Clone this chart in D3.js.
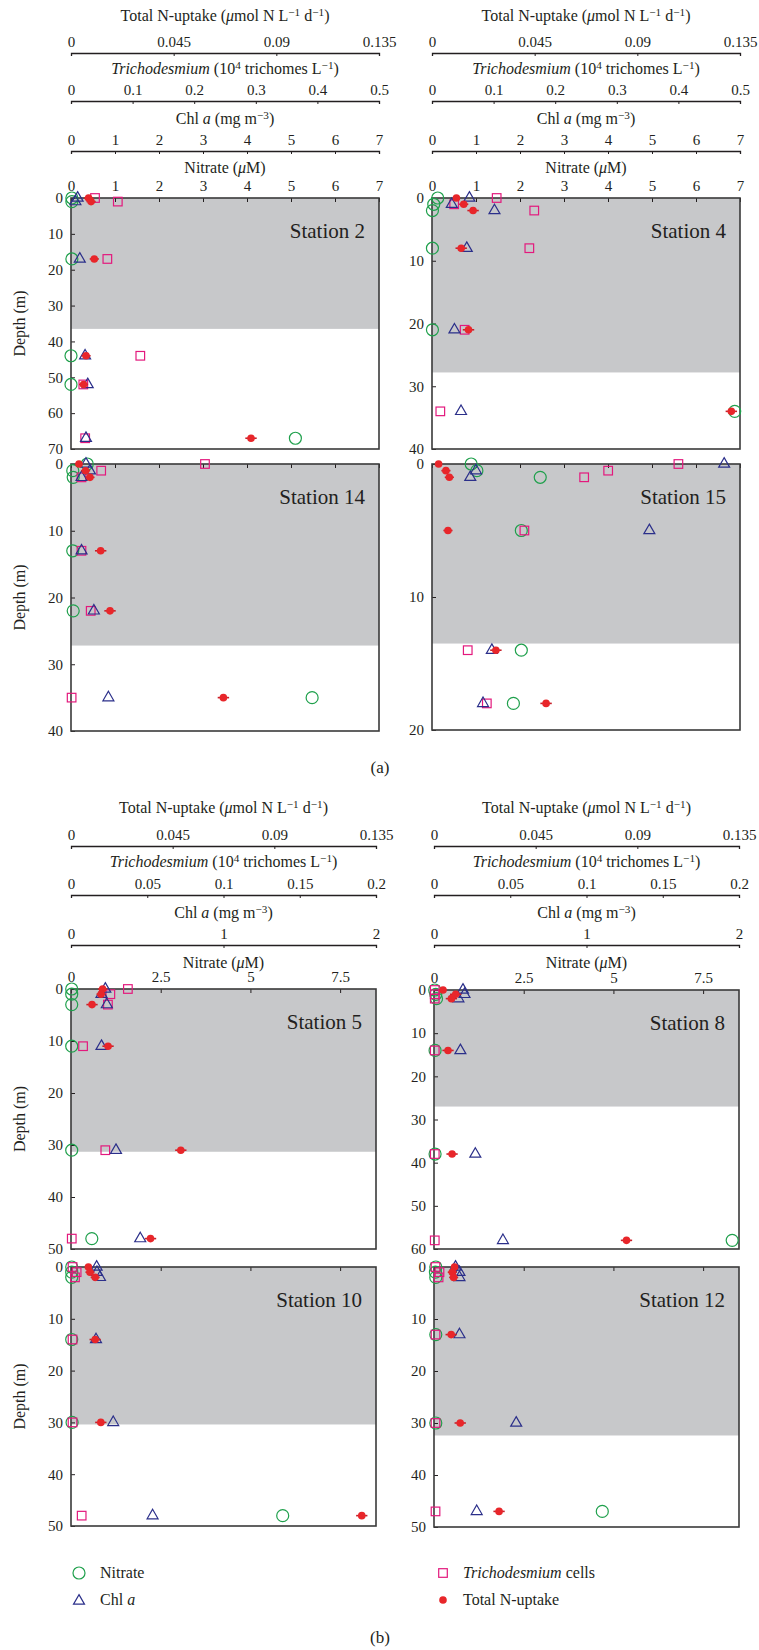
<!DOCTYPE html>
<html><head><meta charset="utf-8">
<script src="https://cdn.jsdelivr.net/npm/d3@7"></script>
<style>
body{margin:0;background:#fff}
svg text{font-family:"Liberation Serif","DejaVu Serif",serif;fill:#231f20}
</style>
</head><body>
<svg id="c" width="759" height="1650"></svg>
<script>
// ---------- axis ticks ----------
const uptakeTicks = [0, 0.045, 0.09, 0.135];
const uptakeLabels = ["0", "0.045", "0.09", "0.135"];
const trichTicksA = [0, 0.1, 0.2, 0.3, 0.4, 0.5];
const trichLabelsA = ["0", "0.1", "0.2", "0.3", "0.4", "0.5"];
const trichTicksB = [0, 0.05, 0.1, 0.15, 0.2];
const trichLabelsB = ["0", "0.05", "0.1", "0.15", "0.2"];
const chlTicksA = [0, 1, 2, 3, 4, 5, 6, 7];
const chlTicksB = [0, 1, 2];
const nitTicksA = [0, 1, 2, 3, 4, 5, 6, 7];
const nitTicksB = [0, 2.5, 5, 7.5];
const nitLabelsB = ["0", "2.5", "5", "7.5"];
const uptakeMax = 0.135, trichMaxA = 0.5, trichMaxB = 0.2, chlMaxA = 7, chlMaxB = 2, nitMaxA = 7, nitMaxB = 8.5;

// ---------- station data ----------
const stationNames = ["Station 2", "Station 4", "Station 14", "Station 15", "Station 5", "Station 8", "Station 10", "Station 12"];
const depthMax = [70, 40, 40, 20, 50, 60, 50, 50];
const mixedDepth = [36.5, 27.8, 27.2, 13.5, 31.3, 27.0, 30.4, 32.4];
const depthTicks2 = [0, 10, 20, 30, 40, 50, 60, 70];
const depthTicks40 = [0, 10, 20, 30, 40];
const depthTicks20 = [0, 10, 20];
const depthTicks50 = [0, 10, 20, 30, 40, 50];
const depthTicks60 = [0, 10, 20, 30, 40, 50, 60];

const depth2 = [0, 1, 17, 44, 52, 67];
const nitrate2 = [0.02, 0.02, 0.02, 0.0, 0.0, 5.1];
const chl2 = [0.15, 0.1, 0.2, 0.32, 0.38, 0.34];
const trich2 = [0.039, 0.076, 0.059, 0.1125, 0.02, 0.023];
const uptake2 = [0.0077, 0.0088, 0.0102, 0.0066, 0.0055, 0.0789];
const uptakeErr2 = [0.002, 0.002, 0.002, 0.002, 0.002, 0.0025];

const depth4 = [0, 1, 2, 8, 21, 34];
const nitrate4 = [0.13, 0.04, 0.01, 0.01, 0.01, 6.88];
const chl4 = [0.85, 0.45, 1.42, 0.79, 0.51, 0.66];
const trich4 = [0.105, 0.036, 0.166, 0.158, 0.053, 0.0135];
const uptake4 = [0.0107, 0.0139, 0.018, 0.0128, 0.016, 0.1312];
const uptakeErr4 = [0.0015, 0.002, 0.0025, 0.0025, 0.0025, 0.0025];

const depth14 = [0, 1, 2, 13, 22, 35];
const nitrate14 = [0.37, 0.04, 0.05, 0.04, 0.05, 5.48];
const chl14 = [0.34, 0.43, 0.24, 0.24, 0.52, 0.85];
const trich14 = [0.2175, 0.049, 0.017, 0.017, 0.032, 0.001];
const uptake14 = [0.0035, 0.0064, 0.0083, 0.013, 0.0171, 0.0668];
const uptakeErr14 = [0.0015, 0.002, 0.002, 0.0025, 0.0025, 0.0025];

const depth15 = [0, 0.5, 1, 5, 14, 18];
const nitrate15 = [0.89, 1.02, 2.46, 2.03, 2.03, 1.85];
const chl15 = [6.64, 1.0, 0.87, 4.94, 1.36, 1.16];
const trich15 = [0.40, 0.286, 0.247, 0.15, 0.058, 0.089];
const uptake15 = [0.0029, 0.0061, 0.0076, 0.007, 0.028, 0.05];
const uptakeErr15 = [0.0012, 0.002, 0.002, 0.002, 0.0025, 0.0025];

const depth5 = [0, 1, 3, 11, 31, 48];
const nitrate5 = [0.02, 0.02, 0.02, 0.02, 0.02, 0.58];
const chl5 = [0.225, 0.2, 0.235, 0.2, 0.295, 0.454];
const trich5 = [0.0373, 0.0258, 0.0242, 0.0079, 0.0225, 0.0005];
const uptake5 = [0.014, 0.0133, 0.0093, 0.0164, 0.0486, 0.0352];
const uptakeErr5 = [0.002, 0.002, 0.0025, 0.0025, 0.0025, 0.0025];

const depth8 = [0, 1, 2, 14, 38, 58];
const nitrate8 = [0.02, 0.05, 0.07, 0.03, 0.03, 8.31];
const chl8 = [0.19, 0.2, 0.16, 0.173, 0.271, 0.452];
const trich8 = [0.0005, 0.0005, 0.0005, 0.0005, 0.0005, 0.0005];
const uptake8 = [0.004, 0.0096, 0.0077, 0.0062, 0.008, 0.0852];
const uptakeErr8 = [0.0015, 0.0025, 0.0025, 0.0025, 0.0025, 0.0025];

const depth10 = [0, 1, 2, 14, 30, 48];
const nitrate10 = [0.02, 0.02, 0.02, 0.02, 0.03, 5.9];
const chl10 = [0.168, 0.17, 0.19, 0.164, 0.277, 0.535];
const trich10 = [0.001, 0.0037, 0.0026, 0.001, 0.001, 0.007];
const uptake10 = [0.0077, 0.0084, 0.0107, 0.0107, 0.0132, 0.1287];
const uptakeErr10 = [0.0015, 0.002, 0.002, 0.0025, 0.0025, 0.0025];

const depth12 = [0, 1, 2, 13, 30, 47];
const nitrate12 = [0.05, 0.04, 0.05, 0.05, 0.05, 4.69];
const chl12 = [0.141, 0.167, 0.167, 0.167, 0.539, 0.28];
const trich12 = [0.001, 0.0036, 0.003, 0.001, 0.001, 0.001];
const uptake12 = [0.0091, 0.0081, 0.0087, 0.0076, 0.0116, 0.0288];
const uptakeErr12 = [0.0015, 0.002, 0.002, 0.0025, 0.0025, 0.0025];

// ---------- drawing ----------
const svg = d3.select("#c");
const COL = {nit: "#1fa04c", chl: "#2b2f8a", tri: "#e3197d", up: "#e8262a", upBar: "#c8202a", shade: "#c7c8ca", frame: "#3a3a3a", ink: "#231f20"};
const FONT = '"Liberation Serif","DejaVu Serif",serif';
const TICK_FS = 15, TITLE_FS = 16;

function styleAxis(g, fs) {
  g.attr("font-family", FONT).attr("font-size", fs);
  g.selectAll("text").attr("fill", COL.ink);
  g.selectAll("line,path").attr("stroke", COL.ink);
}

function topAxis(y, x0, x1, max, ticks, labels) {
  const s = d3.scaleLinear().domain([0, max]).range([x0, x1]);
  const ax = d3.axisTop(s).tickValues(ticks).tickFormat((d, i) => labels[i])
    .tickSizeInner(-3).tickSizeOuter(-3).tickPadding(6);
  const g = svg.append("g").attr("transform", `translate(0,${y})`).call(ax);
  styleAxis(g, TICK_FS);
  g.select(".domain").attr("stroke-width", 1.3);
}

function richText(x, y, parts, fs, anchor) {
  const t = svg.append("text").attr("x", x).attr("y", y).attr("font-size", fs)
    .attr("text-anchor", anchor || "middle");
  let shift = 0;
  parts.forEach(p => {
    const ts = t.append("tspan").text(p.t);
    if (p.i) ts.attr("font-style", "italic");
    const target = p.sup ? -5 : 0;
    if (target !== shift) { ts.attr("dy", target - shift); shift = target; }
    if (p.sup) ts.attr("font-size", fs * 0.7);
  });
  return t;
}

const titleUptake = [{t: "Total N-uptake ("}, {t: "μ", i: true}, {t: "mol N L"}, {t: "−1", sup: true}, {t: " d"}, {t: "−1", sup: true}, {t: ")"}];
const titleTrich = [{t: "Trichodesmium", i: true}, {t: " (10"}, {t: "4", sup: true}, {t: " trichomes L"}, {t: "−1", sup: true}, {t: ")"}];
const titleChl = [{t: "Chl "}, {t: "a", i: true}, {t: " (mg m"}, {t: "−3", sup: true}, {t: ")"}];
const titleNit = [{t: "Nitrate ("}, {t: "μ", i: true}, {t: "M)"}];

function header(x0, x1, ys, trichMax, trichTicks, trichLabels, chlMax, chlTicks) {
  const cx = (x0 + x1) / 2;
  richText(cx, ys.tU, titleUptake, TITLE_FS);
  topAxis(ys.aU, x0, x1, uptakeMax, uptakeTicks, uptakeLabels);
  richText(cx, ys.tT, titleTrich, TITLE_FS);
  topAxis(ys.aT, x0, x1, trichMax, trichTicks, trichLabels);
  richText(cx, ys.tC, titleChl, TITLE_FS);
  topAxis(ys.aC, x0, x1, chlMax, chlTicks, chlTicks.map(String));
  richText(cx, ys.tN, titleNit, TITLE_FS);
}

function panel(p) {
  const xN = d3.scaleLinear().domain([0, p.nitMax]).range([p.x0, p.x1]);
  const xC = d3.scaleLinear().domain([0, p.chlMax]).range([p.x0, p.x1]);
  const xT = d3.scaleLinear().domain([0, p.trichMax]).range([p.x0, p.x1]);
  const xU = d3.scaleLinear().domain([0, uptakeMax]).range([p.x0, p.x1]);
  const y = d3.scaleLinear().domain([0, p.dMax]).range([p.y0, p.y1]);

  svg.append("rect").attr("x", p.x0).attr("y", y(0)).attr("width", p.x1 - p.x0)
    .attr("height", y(p.shade) - y(0)).attr("fill", COL.shade);

  const xa = d3.axisTop(xN).tickValues(p.nitTicks)
    .tickFormat((d, i) => p.nitLabels ? p.nitLabels[i] : "")
    .tickSizeInner(-4).tickSizeOuter(0).tickPadding(7);
  const gx = svg.append("g").attr("transform", `translate(0,${p.y0})`).call(xa);
  styleAxis(gx, TICK_FS);
  gx.select(".domain").remove();

  const ya = d3.axisLeft(y).tickValues(p.dTicks).tickSizeInner(-4).tickSizeOuter(0).tickPadding(8);
  const gy = svg.append("g").attr("transform", `translate(${p.x0},0)`).call(ya);
  styleAxis(gy, TICK_FS);
  gy.select(".domain").remove();

  svg.append("rect").attr("x", p.x0).attr("y", p.y0).attr("width", p.x1 - p.x0)
    .attr("height", p.y1 - p.y0).attr("fill", "none").attr("stroke", COL.frame).attr("stroke-width", 1.6);

  svg.append("text").attr("x", p.x1 - 14).attr("y", p.y0 + 40).attr("text-anchor", "end")
    .attr("font-size", 21).text(p.name);

  const d = p.depth;
  const g = svg.append("g");
  g.selectAll(".nit").data(d).enter().append("circle")
    .attr("cx", (v, i) => xN(p.nitrate[i])).attr("cy", v => y(v)).attr("r", 6)
    .attr("fill", "none").attr("stroke", COL.nit).attr("stroke-width", 1.2);
  g.selectAll(".tri").data(d).enter().append("rect")
    .attr("x", (v, i) => xT(p.trich[i]) - 4.3).attr("y", v => y(v) - 4.3)
    .attr("width", 8.6).attr("height", 8.6)
    .attr("fill", "none").attr("stroke", COL.tri).attr("stroke-width", 1.2);
  const tri = d3.symbol(d3.symbolTriangle, 52);
  g.selectAll(".chl").data(d).enter().append("path").attr("d", tri)
    .attr("transform", (v, i) => `translate(${xC(p.chl[i])},${y(v)})`)
    .attr("fill", "none").attr("stroke", COL.chl).attr("stroke-width", 1.2);
  g.selectAll(".err").data(d).enter().append("line")
    .attr("x1", (v, i) => xU(p.uptake[i] - p.err[i])).attr("x2", (v, i) => xU(p.uptake[i] + p.err[i]))
    .attr("y1", v => y(v)).attr("y2", v => y(v))
    .attr("stroke", COL.upBar).attr("stroke-width", 1.6);
  g.selectAll(".up").data(d).enter().append("circle")
    .attr("cx", (v, i) => xU(p.uptake[i])).attr("cy", v => y(v)).attr("r", 3.8)
    .attr("fill", COL.up);
}

function depthLabel(y0, y1) {
  svg.append("text").attr("transform", `translate(25,${(y0 + y1) / 2}) rotate(-90)`)
    .attr("text-anchor", "middle").attr("font-size", 16).text("Depth (m)");
}

// ----- section (a) -----
const A = {L: [71, 379], R: [432, 740]};
const ysA = {tU: 21, aU: 53, tT: 74, aT: 101, tC: 124, aC: 151, tN: 173};
header(A.L[0], A.L[1], ysA, trichMaxA, trichTicksA, trichLabelsA, chlMaxA, chlTicksA);
header(A.R[0], A.R[1], ysA, trichMaxA, trichTicksA, trichLabelsA, chlMaxA, chlTicksA);

const baseA = {nitMax: nitMaxA, chlMax: chlMaxA, trichMax: trichMaxA, nitTicks: nitTicksA};
panel(Object.assign({}, baseA, {x0: A.L[0], x1: A.L[1], y0: 198, y1: 449, dMax: depthMax[0], shade: mixedDepth[0], dTicks: depthTicks2, nitLabels: nitTicksA.map(String), name: stationNames[0],
  depth: depth2, nitrate: nitrate2, chl: chl2, trich: trich2, uptake: uptake2, err: uptakeErr2}));
panel(Object.assign({}, baseA, {x0: A.R[0], x1: A.R[1], y0: 198, y1: 449, dMax: depthMax[1], shade: mixedDepth[1], dTicks: depthTicks40, nitLabels: nitTicksA.map(String), name: stationNames[1],
  depth: depth4, nitrate: nitrate4, chl: chl4, trich: trich4, uptake: uptake4, err: uptakeErr4}));
panel(Object.assign({}, baseA, {x0: A.L[0], x1: A.L[1], y0: 464, y1: 731, dMax: depthMax[2], shade: mixedDepth[2], dTicks: depthTicks40, nitLabels: null, name: stationNames[2],
  depth: depth14, nitrate: nitrate14, chl: chl14, trich: trich14, uptake: uptake14, err: uptakeErr14}));
panel(Object.assign({}, baseA, {x0: A.R[0], x1: A.R[1], y0: 464, y1: 730, dMax: depthMax[3], shade: mixedDepth[3], dTicks: depthTicks20, nitLabels: null, name: stationNames[3],
  depth: depth15, nitrate: nitrate15, chl: chl15, trich: trich15, uptake: uptake15, err: uptakeErr15}));
depthLabel(198, 449);
depthLabel(464, 731);
svg.append("text").attr("x", 380).attr("y", 773).attr("text-anchor", "middle").attr("font-size", 17).text("(a)");

// ----- section (b) -----
const B = {L: [71, 376], R: [434, 739]};
const ysB = {tU: 813, aU: 846, tT: 867, aT: 895, tC: 918, aC: 945, tN: 968};
header(B.L[0], B.L[1], ysB, trichMaxB, trichTicksB, trichLabelsB, chlMaxB, chlTicksB);
header(B.R[0], B.R[1], ysB, trichMaxB, trichTicksB, trichLabelsB, chlMaxB, chlTicksB);

const baseB = {nitMax: nitMaxB, chlMax: chlMaxB, trichMax: trichMaxB, nitTicks: nitTicksB};
panel(Object.assign({}, baseB, {x0: B.L[0], x1: B.L[1], y0: 989, y1: 1249, dMax: depthMax[4], shade: mixedDepth[4], dTicks: depthTicks50, nitLabels: nitLabelsB, name: stationNames[4],
  depth: depth5, nitrate: nitrate5, chl: chl5, trich: trich5, uptake: uptake5, err: uptakeErr5}));
panel(Object.assign({}, baseB, {x0: B.R[0], x1: B.R[1], y0: 990, y1: 1249, dMax: depthMax[5], shade: mixedDepth[5], dTicks: depthTicks60, nitLabels: nitLabelsB, name: stationNames[5],
  depth: depth8, nitrate: nitrate8, chl: chl8, trich: trich8, uptake: uptake8, err: uptakeErr8}));
panel(Object.assign({}, baseB, {x0: B.L[0], x1: B.L[1], y0: 1267, y1: 1526, dMax: depthMax[6], shade: mixedDepth[6], dTicks: depthTicks50, nitLabels: null, name: stationNames[6],
  depth: depth10, nitrate: nitrate10, chl: chl10, trich: trich10, uptake: uptake10, err: uptakeErr10}));
panel(Object.assign({}, baseB, {x0: B.R[0], x1: B.R[1], y0: 1267, y1: 1527, dMax: depthMax[7], shade: mixedDepth[7], dTicks: depthTicks50, nitLabels: null, name: stationNames[7],
  depth: depth12, nitrate: nitrate12, chl: chl12, trich: trich12, uptake: uptake12, err: uptakeErr12}));
depthLabel(989, 1249);
depthLabel(1267, 1526);

// ----- legend -----
const lg = svg.append("g");
lg.append("circle").attr("cx", 79).attr("cy", 1573).attr("r", 6).attr("fill", "none").attr("stroke", COL.nit).attr("stroke-width", 1.2);
lg.append("path").attr("d", d3.symbol(d3.symbolTriangle, 52)).attr("transform", "translate(79,1601)")
  .attr("fill", "none").attr("stroke", COL.chl).attr("stroke-width", 1.2);
lg.append("rect").attr("x", 443 - 4.3).attr("y", 1573 - 4.3).attr("width", 8.6).attr("height", 8.6)
  .attr("fill", "none").attr("stroke", COL.tri).attr("stroke-width", 1.2);
lg.append("circle").attr("cx", 443).attr("cy", 1600).attr("r", 3.8).attr("fill", COL.up);
richText(100, 1578, [{t: "Nitrate"}], 16, "start");
richText(100, 1605, [{t: "Chl "}, {t: "a", i: true}], 16, "start");
richText(463, 1578, [{t: "Trichodesmium", i: true}, {t: " cells"}], 16, "start");
richText(463, 1605, [{t: "Total N-uptake"}], 16, "start");
svg.append("text").attr("x", 380).attr("y", 1643).attr("text-anchor", "middle").attr("font-size", 17).text("(b)");
</script>
</body></html>
